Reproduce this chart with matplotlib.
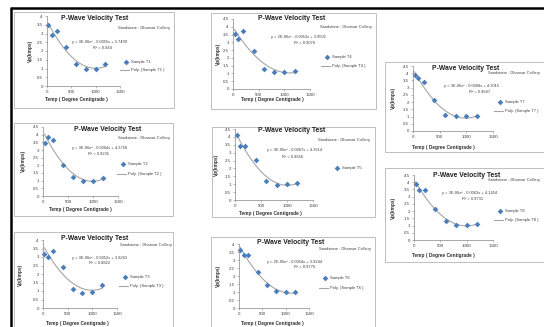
import matplotlib
matplotlib.use('Agg')
import matplotlib.pyplot as plt
from matplotlib.lines import Line2D
from matplotlib.patches import Rectangle
import numpy as np

plt.rcParams['font.family'] = ['Liberation Sans', 'DejaVu Sans']

W, H = 544, 327

# data
temps = [30, 100, 200, 400, 600, 800, 1000, 1200]
vp_t1 = [3.49, 2.90, 3.16, 2.25, 1.24, 0.97, 0.97, 1.24]
vp_t4 = [3.56, 3.21, 3.71, 2.46, 1.29, 1.10, 1.08, 1.16]
vp_t7 = [3.87, 3.64, 3.41, 2.18, 1.09, 1.02, 1.02, 1.02]
vp_t2 = [3.46, 3.85, 3.67, 2.04, 1.24, 0.98, 1.00, 1.17]
vp_t5 = [4.12, 3.45, 3.45, 2.52, 1.20, 0.95, 0.99, 1.10]
vp_t8 = [3.88, 3.46, 3.46, 2.15, 1.29, 1.06, 1.06, 1.11]
vp_t3 = [3.16, 3.02, 3.36, 2.40, 1.13, 0.88, 0.94, 1.37]
vp_t6 = [3.63, 3.32, 3.32, 2.22, 1.45, 1.04, 1.02, 0.97]

samples = ['T1', 'T4', 'T7', 'T2', 'T5', 'T8', 'T3', 'T6']
series = [vp_t1, vp_t4, vp_t7, vp_t2, vp_t5, vp_t8, vp_t3, vp_t6]
equations = ['y = 3E-06x² - 0.0055x + 3.7499',
             'y = 2E-06x² - 0.0053x + 3.9502',
             'y = 3E-06x² - 0.0068x + 4.3015',
             'y = 3E-06x² - 0.0064x + 4.3758',
             'y = 3E-06x² - 0.0067x + 4.3514',
             'y = 3E-06x² - 0.0063x + 4.1454',
             'y = 3E-06x² - 0.0052x + 3.6263',
             'y = 2E-06x² - 0.0054x + 3.9244']
r_squared = ['R² = 0.944', 'R² = 0.9076', 'R² = 0.9697', 'R² = 0.9235',
             'R² = 0.9656', 'R² = 0.9731', 'R² = 0.8822', 'R² = 0.9776']
y_max = [4, 4.5, 4.5, 4.5, 4.5, 4.5, 4, 4]
show_poly_legend = [True, True, True, True, False, True, True, True]

# layout in pixels of the 544x327 picture (x right, y down)
layout = [
    dict(frame=(14, 12, 174, 108), ax=(47, 120, 86, 16), title=(95, 18),
         sub=(170, 28, 'right'), eq=(100, 42), r2=(102, 48), leg=(126, 62, 70),
         xt=(76, 100), yt=(30, 51)),
    dict(frame=(211, 13, 376, 109), ax=(233, 310, 89, 19), title=(292, 18),
         sub=(372, 27, 'right'), eq=(298, 37), r2=(305, 43), leg=(327, 57, 66),
         xt=(272, 99), yt=(218, 54)),
    dict(frame=(385, 62, 620, 152), ax=(413, 493, 131, 66), title=(466, 68),
         sub=(488, 73, 'left'), eq=(471, 86), r2=(480, 92), leg=(500, 102, 111),
         xt=(443, 147), yt=(393, 98)),
    dict(frame=(14, 123, 173, 216), ax=(43, 118, 196, 127), title=(108, 129),
         sub=(170, 138, 'right'), eq=(100, 148), r2=(98, 154), leg=(123, 164, 174),
         xt=(80, 210), yt=(23, 161)),
    dict(frame=(212, 127, 375, 217), ax=(235, 313, 200, 129), title=(292, 131),
         sub=(370, 140, 'right'), eq=(295, 150), r2=(293, 157), leg=(337, 168, None),
         xt=(270, 214), yt=(216, 165)),
    dict(frame=(385, 168, 620, 262), ax=(414, 493, 240, 175), title=(467, 175),
         sub=(488, 180, 'left'), eq=(470, 193), r2=(473, 199), leg=(500, 211, 220),
         xt=(443, 255), yt=(393, 208)),
    dict(frame=(14, 232, 173, 345), ax=(43, 117, 308, 240), title=(95, 239),
         sub=(172, 245, 'right'), eq=(100, 258), r2=(100, 263), leg=(125, 277, 286),
         xt=(77, 323), yt=(20, 275)),
    dict(frame=(211, 237, 375, 345), ax=(239, 309, 308, 244), title=(291, 242),
         sub=(371, 249, 'right'), eq=(295, 262), r2=(305, 267), leg=(325, 278, 288),
         xt=(272, 324), yt=(218, 276)),
]


def fx(x):
    return x / W


def fy(y):
    return 1 - y / H


blue = '#4a7ebb'
trend = '#a6a6a6'
axis_c = '#868686'
txt = '#404040'

fig = plt.figure(figsize=(W / 100, H / 100), dpi=100)
fig.patch.set_facecolor('white')

# page edges (black lines)
fig.add_artist(Line2D([fx(11), fx(11)], [fy(7.5), fy(330)], color='black',
                      lw=1.8, zorder=10, solid_capstyle='butt'))
fig.add_artist(Line2D([fx(10.4), fx(546)], [fy(8), fy(8)], color='black',
                      lw=1.8, zorder=10, solid_capstyle='butt'))

for i in range(8):
    L = layout[i]
    vals = series[i]
    name = 'Sample ' + samples[i]

    x0, y0, x1, y1 = L['frame']
    fig.add_artist(Rectangle((fx(x0), fy(y1)), fx(x1) - fx(x0), fy(y0) - fy(y1),
                             transform=fig.transFigure, fill=False,
                             edgecolor='#bfbfbf', lw=0.7))

    ax_l, ax_r, ax_b, ax_t = L['ax']
    ax = fig.add_axes([fx(ax_l), fy(ax_b), fx(ax_r) - fx(ax_l), fy(ax_t) - fy(ax_b)])
    ax.set_facecolor('none')
    ax.set_xlim(0, 1500)
    ax.set_ylim(0, y_max[i])
    ax.set_xticks([0, 500, 1000, 1500])
    ax.set_yticks(np.arange(0, y_max[i] + 0.01, 0.5))
    ax.set_yticklabels(['%g' % v for v in np.arange(0, y_max[i] + 0.01, 0.5)])
    for s in ['top', 'right']:
        ax.spines[s].set_visible(False)
    for s in ['left', 'bottom']:
        ax.spines[s].set_color(axis_c)
        ax.spines[s].set_linewidth(0.5)
    ax.tick_params(length=1.5, width=0.4, color=axis_c, labelsize=3.2,
                   labelcolor=txt, pad=1.5)

    coef = np.polyfit(temps, vals, 2)
    xs = np.linspace(min(temps), max(temps), 100)
    ax.plot(xs, np.polyval(coef, xs), color=trend, lw=0.8)
    ax.plot(temps, vals, 'D', color=blue, ms=2.9, mew=0, clip_on=False)

    fig.text(fx(L['title'][0]), fy(L['title'][1]), 'P-Wave Velocity Test',
             ha='center', va='center', fontsize=4.9, fontweight='bold', color='#202020')
    sx, sy, sha = L['sub']
    fig.text(fx(sx), fy(sy), 'Sandstone : Dhansar Colliery', ha=sha, va='center',
             fontsize=2.9, color=txt)
    fig.text(fx(L['eq'][0]), fy(L['eq'][1]), equations[i], ha='center', va='center',
             fontsize=2.9, color=txt)
    fig.text(fx(L['r2'][0]), fy(L['r2'][1]), r_squared[i], ha='center', va='center',
             fontsize=2.9, color=txt)

    lx, ly1, ly2 = L['leg']
    fig.add_artist(Line2D([fx(lx)], [fy(ly1)], marker='D', color=blue, ms=2.9, mew=0))
    fig.text(fx(lx + 5), fy(ly1), name, ha='left', va='center', fontsize=3, color=txt)
    if show_poly_legend[i]:
        fig.add_artist(Line2D([fx(lx - 6), fx(lx + 3)], [fy(ly2), fy(ly2)],
                              color=trend, lw=0.8))
        fig.text(fx(lx + 5), fy(ly2), 'Poly. (' + name + ' )', ha='left',
                 va='center', fontsize=3, color=txt)

    fig.text(fx(L['xt'][0]), fy(L['xt'][1]), 'Temp ( Degree Centigrade )',
             ha='center', va='center', fontsize=3.4, fontweight='bold', color='#303030')
    fig.text(fx(L['yt'][0]), fy(L['yt'][1]), 'Vp(kmps)', ha='center', va='center',
             rotation=90, fontsize=3.4, fontweight='bold', color='#303030')

fig.savefig('out.png', dpi=100)
